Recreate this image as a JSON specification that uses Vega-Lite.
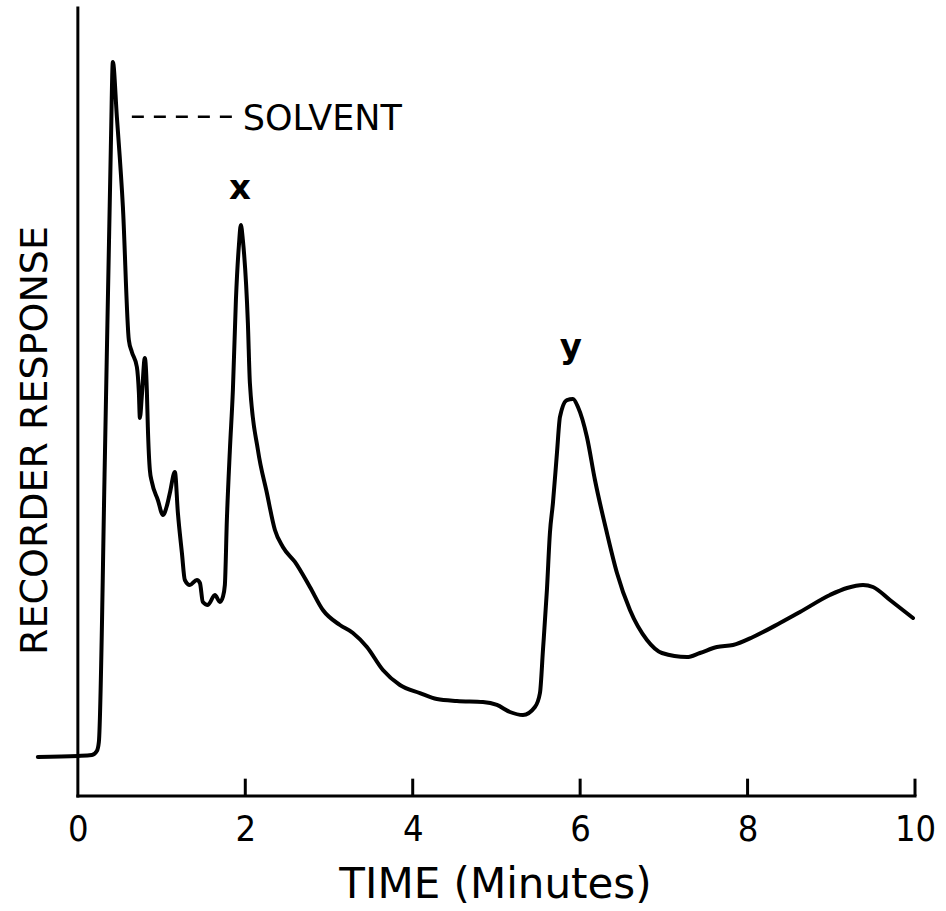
{
  "$schema": "https://vega.github.io/schema/vega-lite/v6.json",
  "width": 879,
  "height": 788,
  "autosize": {"type": "none"},
  "padding": {"left": 36, "top": 8, "right": 31, "bottom": 115},
  "background": "white",
  "config": {
    "view": {"stroke": null},
    "axisX": {"domain": false, "ticks": false, "grid": false,
      "labelFont": "Liberation Sans Narrow, DejaVu Sans Condensed, DejaVu Sans", "labelFontSize": 36, "labelColor": "black",
      "labelPadding": 16, "labelFlush": false,
      "titleFont": "DejaVu Sans", "titleFontSize": 42, "titleFontWeight": "normal", "titleColor": "black",
      "titleY": 101, "titleBaseline": "alphabetic", "titleX": 459},
    "axisY": {"domain": false, "ticks": false, "grid": false, "labels": false,
      "titleFont": "DejaVu Sans", "titleFontSize": 38, "titleFontWeight": "normal", "titleColor": "black",
      "titleX": 10, "titleY": 432, "titleAngle": -90, "titleBaseline": "alphabetic", "titleAlign": "center"}
  },
  "datasets": {
    "trace": [
      {"t": -0.478, "r": 4.95}, {"t": 0.0, "r": 5.08}, {"t": 0.167, "r": 5.2}, {"t": 0.227, "r": 5.71},
      {"t": 0.251, "r": 6.85}, {"t": 0.323, "r": 43.02}, {"t": 0.394, "r": 82.36}, {"t": 0.418, "r": 93.15},
      {"t": 0.466, "r": 86.17}, {"t": 0.538, "r": 74.75}, {"t": 0.609, "r": 57.87}, {"t": 0.645, "r": 56.35},
      {"t": 0.705, "r": 54.44}, {"t": 0.729, "r": 51.14}, {"t": 0.741, "r": 47.97}, {"t": 0.765, "r": 50.89},
      {"t": 0.8, "r": 55.58}, {"t": 0.824, "r": 51.52}, {"t": 0.836, "r": 46.83}, {"t": 0.86, "r": 41.37},
      {"t": 0.884, "r": 39.85}, {"t": 0.956, "r": 37.56}, {"t": 1.016, "r": 35.66}, {"t": 1.063, "r": 36.8},
      {"t": 1.099, "r": 38.45}, {"t": 1.159, "r": 41.12}, {"t": 1.195, "r": 35.91}, {"t": 1.243, "r": 30.84},
      {"t": 1.278, "r": 27.41}, {"t": 1.338, "r": 26.78}, {"t": 1.422, "r": 27.41}, {"t": 1.458, "r": 27.03},
      {"t": 1.493, "r": 24.62}, {"t": 1.553, "r": 24.24}, {"t": 1.637, "r": 25.51}, {"t": 1.697, "r": 24.62},
      {"t": 1.732, "r": 25.25}, {"t": 1.756, "r": 26.78}, {"t": 1.78, "r": 35.03}, {"t": 1.816, "r": 43.91},
      {"t": 1.852, "r": 51.52}, {"t": 1.888, "r": 62.94}, {"t": 1.924, "r": 69.92}, {"t": 1.947, "r": 72.46},
      {"t": 1.971, "r": 70.56}, {"t": 2.031, "r": 60.03}, {"t": 2.055, "r": 52.41}, {"t": 2.151, "r": 43.91},
      {"t": 2.258, "r": 38.45}, {"t": 2.354, "r": 33.76}, {"t": 2.449, "r": 31.6}, {"t": 2.593, "r": 29.7},
      {"t": 2.772, "r": 26.52}, {"t": 2.927, "r": 23.6}, {"t": 3.13, "r": 21.7}, {"t": 3.286, "r": 20.69},
      {"t": 3.453, "r": 18.91}, {"t": 3.644, "r": 15.99}, {"t": 3.847, "r": 14.09}, {"t": 4.086, "r": 13.07},
      {"t": 4.289, "r": 12.31}, {"t": 4.528, "r": 12.06}, {"t": 4.839, "r": 11.93}, {"t": 5.006, "r": 11.55},
      {"t": 5.161, "r": 10.66}, {"t": 5.317, "r": 10.28}, {"t": 5.46, "r": 11.29}, {"t": 5.52, "r": 13.07},
      {"t": 5.556, "r": 18.53}, {"t": 5.603, "r": 26.14}, {"t": 5.639, "r": 33.38}, {"t": 5.675, "r": 37.18},
      {"t": 5.723, "r": 43.53}, {"t": 5.759, "r": 48.1}, {"t": 5.842, "r": 50.25}, {"t": 5.914, "r": 50.38},
      {"t": 5.974, "r": 49.37}, {"t": 6.081, "r": 45.56}, {"t": 6.177, "r": 40.1}, {"t": 6.32, "r": 33.38},
      {"t": 6.44, "r": 28.3}, {"t": 6.595, "r": 23.6}, {"t": 6.798, "r": 19.8}, {"t": 6.977, "r": 18.15},
      {"t": 7.276, "r": 17.64}, {"t": 7.431, "r": 18.15}, {"t": 7.634, "r": 18.91}, {"t": 7.826, "r": 19.16},
      {"t": 8.065, "r": 20.18}, {"t": 8.387, "r": 21.95}, {"t": 8.626, "r": 23.35}, {"t": 8.984, "r": 25.51},
      {"t": 9.188, "r": 26.4}, {"t": 9.379, "r": 26.78}, {"t": 9.498, "r": 26.52}, {"t": 9.701, "r": 24.87},
      {"t": 9.976, "r": 22.59}
    ],
    "axes": [
      {"t": 0, "t2": 10, "r": 0, "r2": 0},
      {"t": 0, "t2": 0, "r": 0, "r2": 100}
    ],
    "ticks": [
      {"t": 2, "t2": 2, "r": 0, "r2": 2.2},
      {"t": 4, "t2": 4, "r": 0, "r2": 2.2},
      {"t": 6, "t2": 6, "r": 0, "r2": 2.2},
      {"t": 8, "t2": 8, "r": 0, "r2": 2.2},
      {"t": 10, "t2": 10, "r": 0, "r2": 2.2}
    ],
    "leader": [{"t": 0.645, "t2": 1.935, "r": 86.2}],
    "solvent": [{"t": 1.97, "r": 84.5, "label": "SOLVENT"}],
    "peaks": [
      {"t": 1.935, "r": 75.8, "label": "x"},
      {"t": 5.89, "r": 55.6, "label": "y"}
    ]
  },
  "layer": [
    {
      "data": {"name": "axes"},
      "mark": {"type": "rule", "color": "black", "strokeWidth": 3, "strokeCap": "square"},
      "encoding": {
        "x": {"field": "t", "type": "quantitative", "scale": {"domain": [-0.5, 10], "nice": false, "zero": false}, "title": "TIME (Minutes)", "axis": {"values": [0, 2, 4, 6, 8, 10]}},
        "x2": {"field": "t2"},
        "y": {"field": "r", "type": "quantitative", "scale": {"domain": [0, 100], "nice": false}, "title": "RECORDER RESPONSE"},
        "y2": {"field": "r2"}
      }
    },
    {
      "data": {"name": "ticks"},
      "mark": {"type": "rule", "color": "black", "strokeWidth": 3},
      "encoding": {
        "x": {"field": "t", "type": "quantitative", "title": "TIME (Minutes)", "axis": {"values": [0, 2, 4, 6, 8, 10]}},
        "x2": {"field": "t2"},
        "y": {"field": "r", "type": "quantitative", "title": "RECORDER RESPONSE"},
        "y2": {"field": "r2"}
      }
    },
    {
      "data": {"name": "trace"},
      "mark": {"type": "line", "color": "black", "strokeWidth": 4, "strokeJoin": "round", "strokeCap": "round", "interpolate": "monotone", "clip": false},
      "encoding": {
        "x": {"field": "t", "type": "quantitative", "title": "TIME (Minutes)", "axis": {"values": [0, 2, 4, 6, 8, 10]}},
        "y": {"field": "r", "type": "quantitative", "title": "RECORDER RESPONSE"}
      }
    },
    {
      "data": {"name": "leader"},
      "mark": {"type": "rule", "color": "black", "strokeWidth": 2.5, "strokeDash": [12, 10]},
      "encoding": {
        "x": {"field": "t", "type": "quantitative", "title": "TIME (Minutes)", "axis": {"values": [0, 2, 4, 6, 8, 10]}},
        "x2": {"field": "t2"},
        "y": {"field": "r", "type": "quantitative", "title": "RECORDER RESPONSE"}
      }
    },
    {
      "data": {"name": "solvent"},
      "mark": {"type": "text", "align": "left", "baseline": "alphabetic", "font": "DejaVu Sans", "fontSize": 35, "color": "black"},
      "encoding": {
        "x": {"field": "t", "type": "quantitative", "title": "TIME (Minutes)", "axis": {"values": [0, 2, 4, 6, 8, 10]}},
        "y": {"field": "r", "type": "quantitative", "title": "RECORDER RESPONSE"},
        "text": {"field": "label"}
      }
    },
    {
      "data": {"name": "peaks"},
      "mark": {"type": "text", "align": "center", "baseline": "alphabetic", "font": "DejaVu Sans", "fontSize": 34, "fontWeight": "bold", "color": "black"},
      "encoding": {
        "x": {"field": "t", "type": "quantitative", "title": "TIME (Minutes)", "axis": {"values": [0, 2, 4, 6, 8, 10]}},
        "y": {"field": "r", "type": "quantitative", "title": "RECORDER RESPONSE"},
        "text": {"field": "label"}
      }
    }
  ]
}
